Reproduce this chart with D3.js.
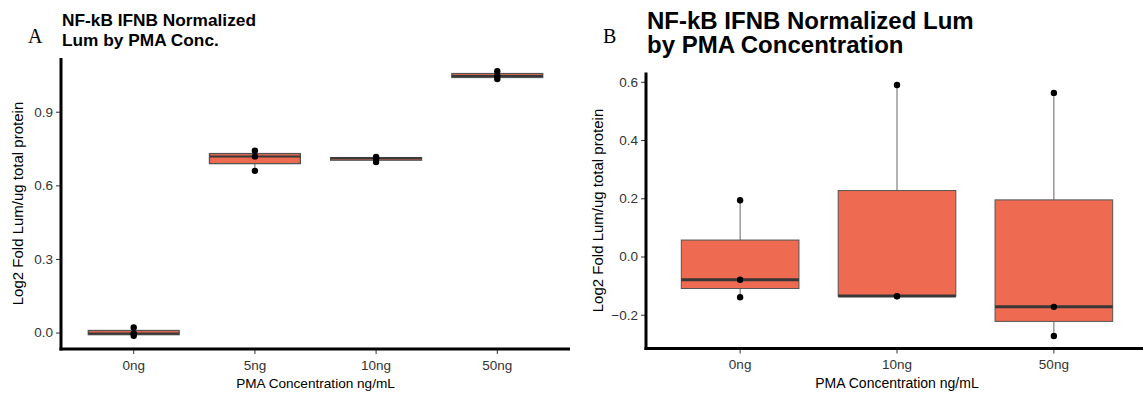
<!DOCTYPE html>
<html>
<head>
<meta charset="utf-8">
<script src="https://cdn.jsdelivr.net/npm/d3@7"></script>
<style>
  body { margin: 0; background: #fff; }
  svg text { font-family: "Liberation Sans", Arial, sans-serif; }
  .tick text { fill: #333; }
</style>
</head>
<body>
<svg id="chart" width="1143" height="395"></svg>
<script>
// panel A: four PMA concentrations, three replicates each
const categoriesA = ['0ng', '5ng', '10ng', '50ng'];
const valuesA = [
    [-0.013, -0.004, 0.021],
    [0.659, 0.718, 0.741],
    [0.695, 0.710, 0.716],
    [1.033, 1.046, 1.065]
];
const ticksA = [0.0, 0.3, 0.6, 0.9];
const titleA = ['NF-kB IFNB Normalized', 'Lum by PMA Conc.'];

// panel B: three PMA concentrations
const categoriesB = ['0ng', '10ng', '50ng'];
const valuesB = [
    [-0.140, -0.080, 0.193],
    [-0.137, -0.136, 0.589],
    [-0.273, -0.173, 0.562]
];
const ticksB = [-0.2, 0.0, 0.2, 0.4, 0.6];
const titleB = ['NF-kB IFNB Normalized Lum', 'by PMA Concentration'];

const fillColor = '#EE6A50';
const yTitle = 'Log2 Fold Lum/ug total protein';
const xTitle = 'PMA Concentration ng/mL';

const svg = d3.select('#chart');

function boxStats(vals) {
    const s = vals.slice().sort(d3.ascending);
    const q1 = d3.quantile(s, 0.25), med = d3.quantile(s, 0.5), q3 = d3.quantile(s, 0.75);
    const iqr = q3 - q1;
    const inside = s.filter(v => v >= q1 - 1.5 * iqr && v <= q3 + 1.5 * iqr);
    return { q1, med, q3, lo: d3.min(inside), hi: d3.max(inside) };
}

function drawPanel(cfg) {
    const g = svg.append('g');
    const all = cfg.values.flat();
    const [mn, mx] = d3.extent(all);
    const pad = (mx - mn) * 0.05;

    const x = d3.scaleBand()
        .domain(cfg.categories)
        .range([cfg.left, cfg.right])
        .paddingInner(0)
        .paddingOuter(0.1);
    const y = d3.scaleLinear()
        .domain([mn - pad, mx + pad])
        .range([cfg.bottom, cfg.top]);

    const boxW = x.bandwidth() * 0.75;

    // y axis
    const yAxis = g.append('g')
        .attr('transform', `translate(${cfg.left},0)`)
        .call(d3.axisLeft(y).tickValues(cfg.ticks).tickFormat(d3.format('.1f')).tickSize(5).tickPadding(3));
    yAxis.select('.domain').remove();
    yAxis.selectAll('.tick line').attr('stroke', '#333');
    yAxis.selectAll('.tick text').style('font-size', cfg.tickFont + 'px');

    // x axis
    const xAxis = g.append('g')
        .attr('transform', `translate(0,${cfg.bottom})`)
        .call(d3.axisBottom(x).tickSize(5).tickPadding(6));
    xAxis.select('.domain').remove();
    xAxis.selectAll('.tick line').attr('stroke', '#333');
    xAxis.selectAll('.tick text').style('font-size', cfg.tickFont + 'px');

    // boxes
    const groups = g.selectAll('.box')
        .data(cfg.categories.map((c, i) => ({ cat: c, vals: cfg.values[i], st: boxStats(cfg.values[i]) })))
        .enter().append('g')
        .attr('class', 'box');

    groups.append('line')
        .attr('x1', d => x(d.cat) + x.bandwidth() / 2)
        .attr('x2', d => x(d.cat) + x.bandwidth() / 2)
        .attr('y1', d => y(d.st.hi))
        .attr('y2', d => y(d.st.q3))
        .attr('stroke', '#666').attr('stroke-width', 1);
    groups.append('line')
        .attr('x1', d => x(d.cat) + x.bandwidth() / 2)
        .attr('x2', d => x(d.cat) + x.bandwidth() / 2)
        .attr('y1', d => y(d.st.q1))
        .attr('y2', d => y(d.st.lo))
        .attr('stroke', '#666').attr('stroke-width', 1);

    groups.append('rect')
        .attr('x', d => x(d.cat) + (x.bandwidth() - boxW) / 2)
        .attr('width', boxW)
        .attr('y', d => y(d.st.q3))
        .attr('height', d => Math.max(0.5, y(d.st.q1) - y(d.st.q3)))
        .attr('fill', fillColor)
        .attr('stroke', '#555')
        .attr('stroke-width', cfg.boxStroke);

    groups.append('line')
        .attr('x1', d => x(d.cat) + (x.bandwidth() - boxW) / 2)
        .attr('x2', d => x(d.cat) + (x.bandwidth() + boxW) / 2)
        .attr('y1', d => y(d.st.med))
        .attr('y2', d => y(d.st.med))
        .attr('stroke', '#383838')
        .attr('stroke-width', cfg.medStroke);

    groups.selectAll('circle')
        .data(d => d.vals.map(v => ({ cat: d.cat, v })))
        .enter().append('circle')
        .attr('cx', d => x(d.cat) + x.bandwidth() / 2)
        .attr('cy', d => y(d.v))
        .attr('r', 3.2)
        .attr('fill', '#000');

    // thick axis lines
    g.append('line')
        .attr('x1', cfg.left).attr('x2', cfg.left)
        .attr('y1', cfg.top).attr('y2', cfg.bottom + 1.5)
        .attr('stroke', '#000').attr('stroke-width', 3);
    g.append('line')
        .attr('x1', cfg.left - 1.5).attr('x2', cfg.right)
        .attr('y1', cfg.bottom).attr('y2', cfg.bottom)
        .attr('stroke', '#000').attr('stroke-width', 3);

    // axis titles
    g.append('text')
        .attr('transform', `translate(${cfg.yTitleX},${(cfg.top + cfg.bottom) / 2}) rotate(-90)`)
        .attr('text-anchor', 'middle')
        .attr('dy', '0.35em')
        .style('font-size', cfg.yTitleFont + 'px')
        .text(yTitle);
    g.append('text')
        .attr('x', (cfg.left + cfg.right) / 2)
        .attr('y', cfg.xTitleY)
        .attr('text-anchor', 'middle')
        .style('font-size', cfg.xTitleFont + 'px')
        .text(xTitle);

    // plot title
    g.selectAll('.ptitle')
        .data(cfg.title)
        .enter().append('text')
        .attr('x', cfg.titleX)
        .attr('y', (d, i) => cfg.titleY + i * cfg.titleGap)
        .style('font-size', cfg.mainFont + 'px')
        .style('font-weight', 'bold')
        .text(d => d);

    // panel letter
    g.append('text')
        .attr('x', cfg.letterX)
        .attr('y', 42.5)
        .style('font-family', '"Liberation Serif", "Times New Roman", serif')
        .style('font-size', '20px')
        .text(cfg.letter);
}

drawPanel({
    categories: categoriesA, values: valuesA, ticks: ticksA, title: titleA, letter: 'A',
    left: 61, right: 570, top: 58, bottom: 349,
    tickFont: 13.5, xTitleFont: 13.6, yTitleFont: 15, mainFont: 17.3,
    titleX: 62, titleY: 26, titleGap: 19.5, letterX: 28,
    yTitleX: 18, xTitleY: 388,
    boxStroke: 1.3, medStroke: 2
});

drawPanel({
    categories: categoriesB, values: valuesB, ticks: ticksB, title: titleB, letter: 'B',
    left: 646, right: 1148, top: 72.5, bottom: 348.5,
    tickFont: 13.5, xTitleFont: 14, yTitleFont: 15, mainFont: 24,
    titleX: 647, titleY: 29, titleGap: 24, letterX: 603,
    yTitleX: 598, xTitleY: 388,
    boxStroke: 1, medStroke: 3
});
</script>
</body>
</html>
